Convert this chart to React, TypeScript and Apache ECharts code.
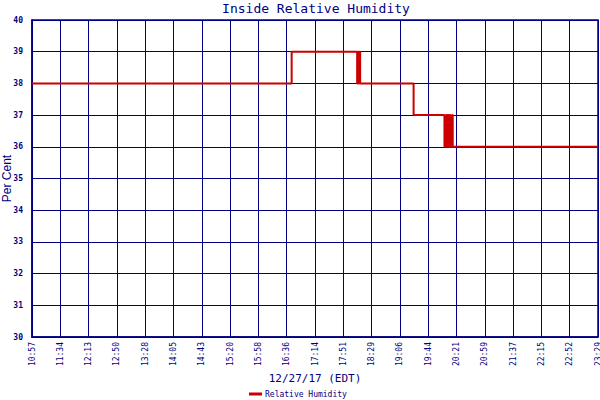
import React, { useEffect, useRef } from "react";
import * as echarts from "echarts";

const tickLabels = [
  "10:57", "11:34", "12:13", "12:50", "13:28", "14:05", "14:43", "15:20", "15:58", "16:36",
  "17:14", "17:51", "18:29", "19:06", "19:44", "20:21", "20:59", "21:37", "22:15", "22:52", "23:29",
];
const yTicks = [30, 31, 32, 33, 34, 35, 36, 37, 38, 39, 40];
const times = [
  "10:57", "16:42", "18:09", "18:10", "18:11", "18:12", "18:13", "19:24",
  "20:05", "20:07", "20:09", "20:10", "20:11", "20:12", "20:13", "20:15", "20:16", "23:29",
];
const humidity = [
  38, 39, 38, 39, 38, 39, 38, 37,
  36, 37, 36, 37, 36, 37, 36, 37, 36, 36,
];

const START = "10:57";
const SPAN = 752; // minutes covered by the axis
const STEP = SPAN / 20;

function toMin(t: string): number {
  const [h, m] = t.split(":").map(Number);
  return h * 60 + m;
}

const NAVY = "#000080";
const MONO = "DejaVu Sans Mono";

export default function App() {
  const ref = useRef<HTMLDivElement>(null);
  useEffect(() => {
    if (!ref.current) return;
    const chart = echarts.init(ref.current, undefined, { renderer: "svg" });
    const t0 = toMin(START);
    const data = times.map((t, i) => [toMin(t) - t0, humidity[i]]);
    chart.setOption({
      animation: false,
      backgroundColor: "#ffffff",
      title: {
        text: "Inside Relative Humidity",
        left: 316,
        textAlign: "center",
        top: 2,
        padding: 0,
        textStyle: { color: NAVY, fontFamily: MONO, fontSize: 13, fontWeight: "normal" },
      },
      legend: {
        top: 390,
        left: 249,
        padding: 0,
        itemWidth: 13,
        itemHeight: 3,
        itemGap: 3,
        icon: "rect",
        textStyle: { color: NAVY, fontFamily: MONO, fontSize: 8, padding: [0, 0, 0, -2] },
        data: ["Relative Humidity"],
      },
      grid: {
        left: 32,
        right: 2,
        top: 20,
        bottom: 63,
        containLabel: false,
        outerBoundsMode: "none",
        show: true,
        borderColor: NAVY,
        borderWidth: 1.5,
        backgroundColor: "#ffffff",
      },
      xAxis: {
        type: "value",
        min: 0,
        max: SPAN,
        interval: STEP,
        name: "12/27/17 (EDT)",
        nameLocation: "middle",
        nameGap: 36,
        nameMoveOverlap: false,
        nameTextStyle: { color: NAVY, fontFamily: MONO, fontSize: 11 },
        axisLine: { lineStyle: { color: NAVY, width: 1.5 } },
        axisTick: { show: false },
        splitLine: { show: true, lineStyle: { color: NAVY, width: 1 } },
        axisLabel: {
          rotate: 90,
          margin: 5,
          color: NAVY,
          fontFamily: MONO,
          fontSize: 8,
          showMaxLabel: true,
          showMinLabel: true,
          formatter: (v: number) => tickLabels[Math.round(v / STEP)] ?? "",
        },
      },
      yAxis: {
        type: "value",
        min: yTicks[0],
        max: yTicks[yTicks.length - 1],
        interval: 1,
        name: "Per Cent",
        nameLocation: "middle",
        nameGap: 19,
        nameMoveOverlap: false,
        nameTextStyle: { color: NAVY, fontFamily: "Liberation Sans", fontSize: 12 },
        axisLine: { show: true, lineStyle: { color: NAVY, width: 1.5 } },
        axisTick: { show: false },
        splitLine: { show: true, lineStyle: { color: NAVY, width: 1 } },
        axisLabel: {
          margin: 9,
          color: NAVY,
          fontFamily: MONO,
          fontWeight: "bold",
          fontSize: 8,
        },
      },
      series: [
        {
          name: "Relative Humidity",
          type: "line",
          step: "end",
          showSymbol: false,
          symbol: "none",
          data,
          color: "#cc0000",
          lineStyle: { color: "#cc0000", width: 2 },
        },
      ],
    });
    return () => chart.dispose();
  }, []);
  return (
    <div
      ref={ref}
      style={{ position: "fixed", left: 0, top: 0, width: 600, height: 400 }}
    />
  );
}
